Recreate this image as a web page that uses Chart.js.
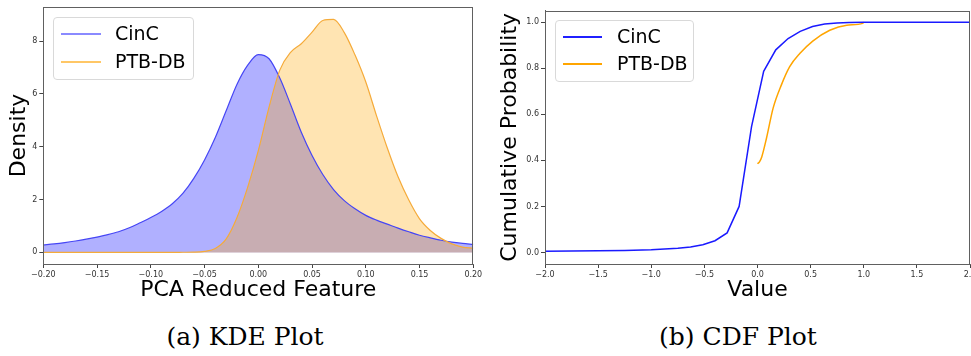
<!DOCTYPE html>
<html>
<head>
<meta charset="utf-8">
<script src="https://cdn.jsdelivr.net/npm/chart.js@4.4.1/dist/chart.umd.min.js"></script>
<style>
  html, body { margin: 0; padding: 0; background: #fff; }
  body { width: 971px; height: 356px; position: relative; overflow: hidden; font-family: "DejaVu Sans", sans-serif; }
  canvas { position: absolute; top: 0; }
  .legend { position: absolute; background: rgba(255,255,255,0.85); border: 1px solid #d9d9d9; border-radius: 4px; box-sizing: border-box; }
  .swatch { position: absolute; height: 2px; }
  .ltext { position: absolute; font-family: "DejaVu Sans", sans-serif; font-size: 19px; line-height: 20px; color: #000; white-space: nowrap; }
  .caption { position: absolute; width: 300px; text-align: center; font-family: "DejaVu Serif", serif; font-size: 25px; line-height: 30px; color: #000; }
</style>
</head>
<body>
<canvas id="kde" width="485" height="305" style="left:0px;width:485px;height:305px"></canvas>
<canvas id="cdf" width="481" height="305" style="left:490px;width:481px;height:305px"></canvas>

<div class="legend" style="left:53px;top:17px;width:141px;height:63px;">
  <div class="swatch" style="left:7px;top:15px;width:40px;background:#8a8aff;"></div>
  <div class="ltext" style="left:61px;top:5px;">CinC</div>
  <div class="swatch" style="left:7px;top:43px;width:40px;background:#ffc766;"></div>
  <div class="ltext" style="left:61px;top:33px;">PTB-DB</div>
</div>
<div class="legend" style="left:555px;top:20px;width:139px;height:62px;">
  <div class="swatch" style="left:7px;top:15px;width:39px;background:#2020ff;"></div>
  <div class="ltext" style="left:61px;top:5px;">CinC</div>
  <div class="swatch" style="left:7px;top:42px;width:39px;background:#ffa500;"></div>
  <div class="ltext" style="left:61px;top:32px;">PTB-DB</div>
</div>

<div class="caption" style="left:95px;top:322px;">(a) KDE Plot</div>
<div class="caption" style="left:588px;top:322px;">(b) CDF Plot</div>

<script>
// ---------- data ----------
const kdeX = [-0.20,-0.19,-0.18,-0.17,-0.16,-0.15,-0.14,-0.13,-0.12,-0.11,-0.10,-0.09,-0.08,-0.07,-0.06,-0.05,-0.04,-0.03,-0.02,-0.01,
              0.00,0.01,0.02,0.03,0.04,0.05,0.06,0.07,0.08,0.09,0.10,0.11,0.12,0.13,0.14,0.15,0.16,0.17,0.18,0.19,0.20];
const cincDensity = [0.28,0.32,0.37,0.43,0.50,0.58,0.67,0.78,0.93,1.12,1.32,1.55,1.84,2.24,2.80,3.50,4.35,5.35,6.35,7.08,
                     7.49,7.33,6.60,5.60,4.55,3.67,2.95,2.38,1.96,1.65,1.40,1.22,1.07,0.92,0.78,0.65,0.55,0.46,0.39,0.34,0.30];
const ptbDensity = [0,0,0,0,0,0,0,0,0,0,0,0,0,0.005,0.01,0.04,0.15,0.50,1.30,2.45,
                    3.85,5.50,6.90,7.57,7.90,8.34,8.78,8.82,8.32,7.47,6.45,5.17,3.95,2.86,1.98,1.27,0.83,0.53,0.32,0.20,0.16];

const cdfCincX = [-2.0,-1.5,-1.25,-1.0,-0.75,-0.63,-0.515,-0.40,-0.286,-0.173,-0.056,0.058,0.172,0.288,0.402,0.518,0.632,0.748,0.862,1.0,1.5,2.0];
const cdfCincP = [0.005,0.007,0.009,0.012,0.018,0.024,0.034,0.051,0.085,0.200,0.547,0.787,0.880,0.929,0.960,0.981,0.992,0.997,0.999,1.0,1.0,1.0];
const cdfPtbX = [0.0,0.02,0.04,0.085,0.147,0.225,0.303,0.40,0.52,0.68,0.84,0.99,1.0];
const cdfPtbP = [0.385,0.395,0.415,0.497,0.627,0.728,0.807,0.865,0.918,0.965,0.987,0.995,1.0];

const kdeXTicks = [-0.20,-0.15,-0.10,-0.05,0.00,0.05,0.10,0.15,0.20];
const kdeYTicks = [0,2,4,6,8];
const cdfXTicks = [-2.0,-1.5,-1.0,-0.5,0.0,0.5,1.0,1.5,2.0];
const cdfYTicks = [0.0,0.2,0.4,0.6,0.8,1.0];

// ---------- helpers ----------
function pts(xs, ys) { return xs.map((x, i) => ({ x: x, y: ys[i] })); }
function fmt(v, d) { const s = Math.abs(v).toFixed(d); return (v < -1e-9 ? '\u2212' : '') + s; }

const frame = {
  id: 'frame',
  afterDraw(chart) {
    const a = chart.chartArea, ctx = chart.ctx;
    ctx.save();
    ctx.strokeStyle = '#606060';
    ctx.lineWidth = 1;
    const l = Math.round(a.left) + 0.5, t = Math.round(a.top) + 0.5;
    const r = Math.round(a.right) - 0.5, b = Math.round(a.bottom) + 0.5;
    ctx.strokeRect(l, t, r - l, b - t);
    ctx.restore();
  }
};

function axis(opts) {
  return {
    type: 'linear',
    min: opts.min, max: opts.max,
    afterBuildTicks: s => { s.ticks = opts.ticks.map(v => ({ value: v })); },
    afterFit: opts.afterFit,
    ticks: {
      callback: v => fmt(v, opts.dec),
      font: { family: 'DejaVu Sans', size: 8 },
      color: '#333',
      padding: 2,
      maxRotation: 0, autoSkip: false
    },
    grid: { drawOnChartArea: false, drawTicks: true, tickLength: 4, tickColor: '#444', tickWidth: 1 },
    border: { display: true, color: '#606060', width: 1 },
    title: {
      display: true, text: opts.title, color: '#000',
      font: { family: 'DejaVu Sans', size: 22 },
      padding: opts.titlePad
    }
  };
}

const common = {
  responsive: false,
  animation: false,
  devicePixelRatio: 1,
  plugins: { legend: { display: false }, tooltip: { enabled: false } },
  elements: { point: { radius: 0, hoverRadius: 0 } },
  events: []
};

// ---------- KDE chart ----------
// filled areas first (orange area above blue area), then both outlines on top
new Chart(document.getElementById('kde'), {
  type: 'line',
  data: {
    datasets: [
      { label: 'CinC', data: pts(kdeX, cincDensity), borderWidth: 0, borderColor: 'rgba(0,0,0,0)', backgroundColor: 'rgba(0,0,255,0.31)',
        fill: 'origin', cubicInterpolationMode: 'monotone', order: 4 },
      { label: 'PTB-DB', data: pts(kdeX, ptbDensity), borderWidth: 0, borderColor: 'rgba(0,0,0,0)', backgroundColor: 'rgba(255,165,0,0.3)',
        fill: 'origin', cubicInterpolationMode: 'monotone', order: 3 },
      { label: 'CinC line', data: pts(kdeX, cincDensity), borderColor: '#4646f5', borderWidth: 1.2, fill: false,
        cubicInterpolationMode: 'monotone', order: 2 },
      { label: 'PTB-DB line', data: pts(kdeX, ptbDensity), borderColor: '#f5ab3a', borderWidth: 1.2, fill: false,
        cubicInterpolationMode: 'monotone', order: 1 }
    ]
  },
  options: Object.assign({}, common, {
    layout: { padding: { top: 7, right: 11.7, left: 0, bottom: 0 } },
    scales: {
      x: axis({ min: -0.2, max: 0.2, ticks: kdeXTicks, dec: 2, title: 'PCA Reduced Feature', titlePad: { top: 0, bottom: 2 },
                afterFit: s => { s.height = 41; s.paddingLeft = 0; s.paddingRight = 0; } }),
      y: axis({ min: -0.44, max: 9.29, ticks: kdeYTicks, dec: 0, title: 'Density', titlePad: { top: 6, bottom: 0 },
                afterFit: s => { s.width = 43.3; s.paddingTop = 0; s.paddingBottom = 0; } })
    }
  }),
  plugins: [frame]
});

// ---------- CDF chart ----------
new Chart(document.getElementById('cdf'), {
  type: 'line',
  data: {
    datasets: [
      { label: 'CinC', data: pts(cdfCincX, cdfCincP), borderColor: '#1a1aff', borderWidth: 1.5, fill: false, tension: 0 },
      { label: 'PTB-DB', data: pts(cdfPtbX, cdfPtbP), borderColor: '#ffa500', borderWidth: 1.5, fill: false, cubicInterpolationMode: 'monotone' }
    ]
  },
  options: Object.assign({}, common, {
    layout: { padding: { top: 10.7, right: 1, left: 0, bottom: 0 } },
    scales: {
      x: axis({ min: -2, max: 2, ticks: cdfXTicks, dec: 1, title: 'Value', titlePad: { top: 0, bottom: 2 },
                afterFit: s => { s.height = 41; s.paddingLeft = 0; s.paddingRight = 0; } }),
      y: axis({ min: -0.05, max: 1.05, ticks: cdfYTicks, dec: 1, title: 'Cumulative Probability', titlePad: { top: 7.5, bottom: 0 },
                afterFit: s => { s.width = 55; s.paddingTop = 0; s.paddingBottom = 0; } })
    }
  }),
  plugins: [frame]
});
</script>
</body>
</html>
